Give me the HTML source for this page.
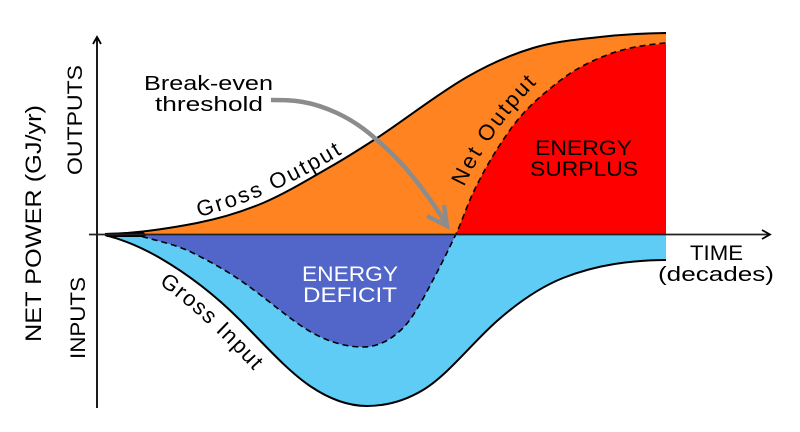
<!DOCTYPE html>
<html>
<head>
<meta charset="utf-8">
<style>
html,body{margin:0;padding:0;background:#fff;width:800px;height:432px;overflow:hidden}
svg{display:block}
text{font-family:"Liberation Sans",sans-serif;fill:#000}
</style>
</head>
<body>
<svg width="800" height="432" viewBox="0 0 800 432" xmlns="http://www.w3.org/2000/svg">
<defs>
<path id="pGO" d="M199,217 Q272,198 348,150"/>
<path id="pNO" d="M464,187 Q492,128 540,80"/>
<path id="pGI" d="M159,284 Q207,318 262,380"/>
</defs>
<!-- fills -->
<path fill="#FF8320" d="M105,234 C136,233.6 166,229 197,223 C219,218.7 241,212.2 263,203 C285,193.6 308,179.7 330,167 C346,158 361,148.3 377,138 C407,118.3 437,94.3 467,77 C489,64.3 511,54.6 533,48 C555,41.3 578,39.5 600,37 C622,34.5 644,33.3 666,33 L666,234 Z"/>
<path fill="#FF0000" d="M456,234 C461.7,222 467.3,205 473,193 C485.3,167.2 497.7,147.2 510,130 C525.7,108 541.3,95.6 557,83 C573.7,69.6 590.3,61.3 607,55 C626.7,47.5 646.3,44.6 666,44 L666,234 Z"/>
<path fill="#5ECCF5" d="M105,234 L666,234 L666,260 C631.7,260.3 597.3,264.3 563,278 C541,286.8 519,301.6 497,321 C472.3,342.7 447.7,375.2 423,390 C404.3,401.2 385.7,406 367,406 C348,406 329,398.9 310,386 C286.7,370.1 263.3,343.3 240,320 C213.3,293.3 186.7,273.5 160,258 C141.7,247.4 123.3,239.6 105,235 Z"/>
<path fill="#5166C8" d="M130,234 L456,234 C448.3,250.2 440.7,265.4 433,280 C423,299 413,318 403,328 C389.7,341.3 376.3,347 363,347 C341,347 319,338.8 297,323 C280.3,311 263.7,297 247,285 C229,272 211,262 193,253 C176,244.5 159,241.3 142,236.5 Z"/>
<!-- curves -->
<path fill="none" stroke="#000" stroke-width="2" d="M105,234 C136,233.6 166,229 197,223 C219,218.7 241,212.2 263,203 C285,193.6 308,179.7 330,167 C346,158 361,148.3 377,138 C407,118.3 437,94.3 467,77 C489,64.3 511,54.6 533,48 C555,41.3 578,39.5 600,37 C622,34.5 644,33.3 666,33"/>
<path fill="none" stroke="#000" stroke-width="2" d="M105,235 C123.3,239.6 141.7,247.4 160,258 C186.7,273.5 213.3,293.3 240,320 C263.3,343.3 286.7,370.1 310,386 C329,398.9 348,406 367,406 C385.7,406 404.3,401.2 423,390 C447.7,375.2 472.3,342.7 497,321 C519,301.6 541,286.8 563,278 C597.3,264.3 631.7,260.3 666,260"/>
<path fill="none" stroke="#000" stroke-width="1.6" stroke-dasharray="6 4" d="M142,236.5 C159,241.3 176,244.5 193,253 C211,262 229,272 247,285 C263.7,297 280.3,311 297,323 C319,338.8 341,347 363,347 C376.3,347 389.7,341.3 403,328 C413,318 423,299 433,280 C440.7,265.4 448.3,250.2 456,234 C461.7,222 467.3,205 473,193 C485.3,167.2 497.7,147.2 510,130 C525.7,108 541.3,95.6 557,83 C573.7,69.6 590.3,61.3 607,55 C626.7,47.5 646.3,44.6 666,43"/>
<path fill="#000" d="M105,233 L143,232 L147,235 L143,237 L107,237 Z"/>
<!-- axes -->
<line x1="97" y1="37" x2="97" y2="408" stroke="#000" stroke-width="1.8"/>
<path fill="none" stroke="#000" stroke-width="1.8" d="M93,44 L97,37 L101,44"/>
<line x1="89" y1="234.5" x2="770" y2="234.5" stroke="#222" stroke-width="1.8"/>
<path fill="none" stroke="#000" stroke-width="1.8" d="M762,230 L770,234.5 L762,239"/>
<!-- break-even arrow -->
<path fill="none" stroke="#8C8C8C" stroke-width="4.5" d="M271,100 C282,100 292,100 303,102 C315,104 326,108 337,113 C352,120 365,129 377,140 C390,151 402,163 413,177 C425,192 436,207 446,224"/>
<path fill="none" stroke="#8C8C8C" stroke-width="4.5" d="M427,216 L447,226 L444,205"/>
<!-- labels -->
<text x="144" y="90" font-size="20" textLength="129" lengthAdjust="spacingAndGlyphs">Break-even</text>
<text x="155" y="111" font-size="20" textLength="108" lengthAdjust="spacingAndGlyphs">threshold</text>
<text font-size="22" letter-spacing="2.4"><textPath href="#pGO">Gross Output</textPath></text>
<text font-size="22" letter-spacing="2.3"><textPath href="#pNO">Net Output</textPath></text>
<text font-size="22" letter-spacing="1.5"><textPath href="#pGI">Gross Input</textPath></text>
<text x="535" y="155" font-size="21" textLength="97" lengthAdjust="spacingAndGlyphs">ENERGY</text>
<text x="530" y="176" font-size="21" textLength="108" lengthAdjust="spacingAndGlyphs">SURPLUS</text>
<text x="302" y="281" font-size="21" textLength="96" lengthAdjust="spacingAndGlyphs" style="fill:#fff">ENERGY</text>
<text x="303" y="302" font-size="21" textLength="94" lengthAdjust="spacingAndGlyphs" style="fill:#fff">DEFICIT</text>
<text x="690" y="260" font-size="21" textLength="53" lengthAdjust="spacingAndGlyphs">TIME</text>
<text x="658" y="281" font-size="20" textLength="116" lengthAdjust="spacingAndGlyphs">(decades)</text>
<text transform="translate(41,342) rotate(-90)" font-size="22" textLength="237" lengthAdjust="spacingAndGlyphs">NET POWER (GJ/yr)</text>
<text transform="translate(82,175) rotate(-90)" font-size="21" textLength="110" lengthAdjust="spacingAndGlyphs">OUTPUTS</text>
<text transform="translate(85,359) rotate(-90)" font-size="21" textLength="82" lengthAdjust="spacingAndGlyphs">INPUTS</text>
</svg>
</body>
</html>
